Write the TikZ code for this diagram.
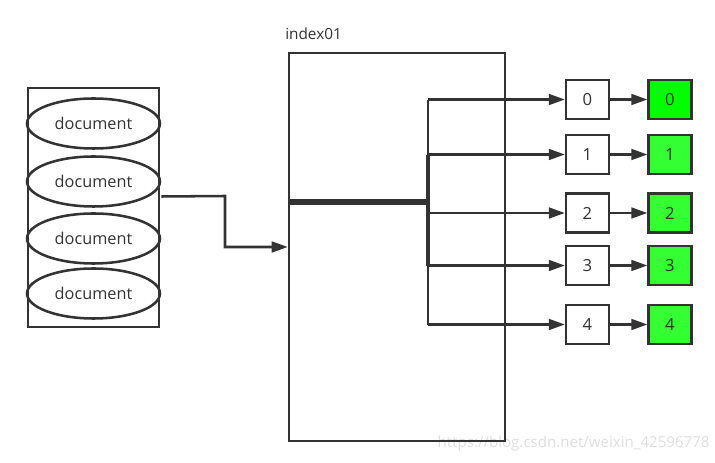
\documentclass[tikz,border=0pt]{standalone}
\usepackage{fontspec}
\setmainfont{Open Sans}
\usetikzlibrary{arrows.meta,shapes.geometric}
\definecolor{ink}{HTML}{333333}
\definecolor{gA}{HTML}{00FF00}
\definecolor{gB}{HTML}{33FF33}
\tikzset{
  line/.style={draw=ink,line width=1.9pt},
  arr/.style={line,-{Triangle[length=12pt,width=8pt]}},
  doc/.style={ellipse,draw=ink,line width=1.9pt,minimum width=99.75pt,minimum height=37.5pt,inner sep=0pt,font=\fontsize{12.2}{14}\selectfont,text=ink},
  idx/.style={rectangle,draw=ink,line width=1.9pt,minimum width=32pt,minimum height=29pt,inner sep=0pt,font=\fontsize{12.5}{14}\selectfont,text=ink},
}
\begin{document}
\begin{tikzpicture}[x=0.75pt,y=-0.75pt]
\useasboundingbox (0,0) rectangle (715,463);
% watermark
\node[anchor=west,text=black!13,font=\fontsize{11.3}{13}\selectfont] (wm) at (433,444) {https://blog.csdn.net/weixin\_42596778};
% document group
\node[line,rectangle,minimum width=98.25pt,minimum height=179.25pt,inner sep=0pt] (grp) at (93.5,207.5) {};
\node[doc] (d1) at (93.5,123.5) {document};
\node[doc] (d2) at (93.5,181.5) {document};
\node[doc] (d3) at (93.5,238.5) {document};
\node[doc] (d4) at (93.5,293.5) {document};
% index
\node[line,rectangle,minimum width=162pt,minimum height=291pt,inner sep=0pt] (index) at (397,247) {};
\node[anchor=south west,inner sep=0pt,font=\fontsize{11.5}{13}\selectfont,text=ink] (lbl) at (285,40) {index01};
\coordinate (j) at (428,202);
\draw[arr] (d2.east) ++(0,15) coordinate (s) -- (225,196) |- (index.west |- 0,247);
\draw[ink,line width=4pt] (index.west |- j) -- (j);
\draw[ink,line width=3.5pt] (428,155) -- (428,266);
\draw[line] (428,100) -- (428,325);
% boxes
\foreach \i/\y/\c in {0/99.5/gA,1/154.5/gB,2/213/gB,3/265.5/gB,4/324.5/gB}{
  \node[idx,fill=white] (b\i) at (587.5,\y) {\i};
  \node[idx,fill=\c] (g\i) at (670,\y) {\i};
  \draw[arr] (428,\y) -- (b\i.west);
  \draw[arr] (b\i.east) -- (g\i.west);
}
\end{tikzpicture}
\end{document}
